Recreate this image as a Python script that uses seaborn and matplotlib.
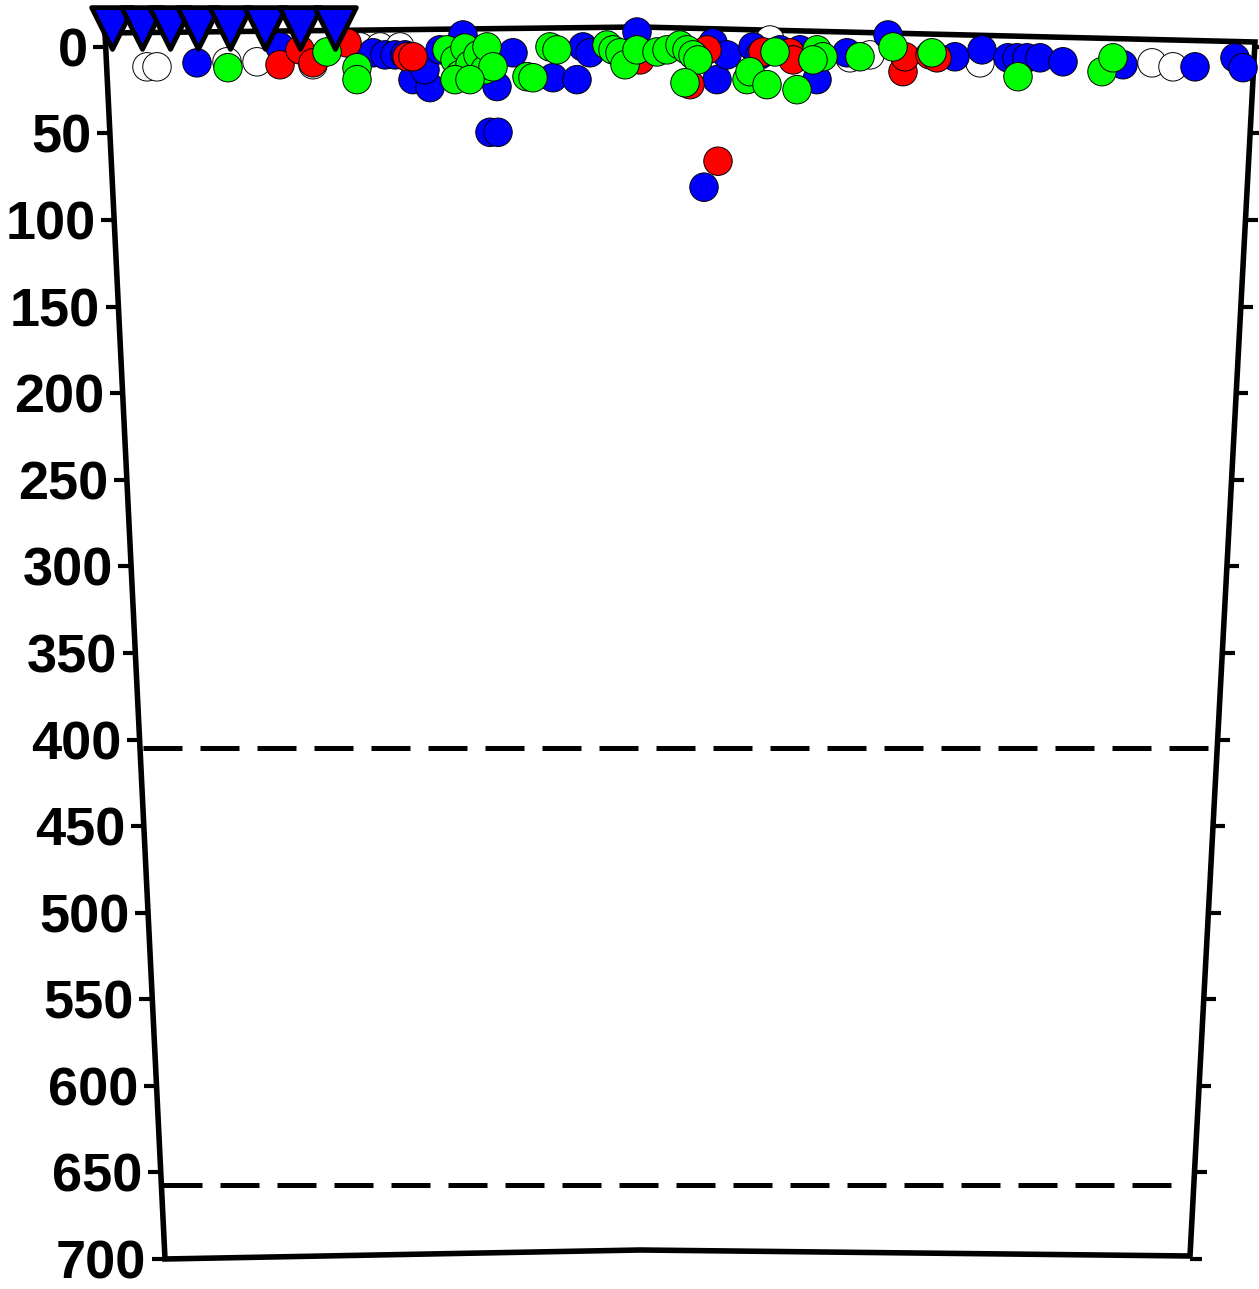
import numpy as np
import pandas as pd
import matplotlib
matplotlib.use("Agg")
import matplotlib.pyplot as plt
import seaborn as sns
from matplotlib.transforms import ScaledTranslation

# ---------------- data ----------------
yticks = [0, 50, 100, 150, 200, 250, 300, 350, 400, 450, 500, 550, 600, 650, 700]
ytick_labels = [str(v) for v in yticks]

white_x = [42, 52, 122, 152, 208, 255, 275, 295, 665, 745, 765, 875, 1047, 1068]
white_y = [11.5, 11.5, 8.6, 8.6, 10.3, 0, 0, 0, -4, 6.3, 4.6, 9.2, 9.2, 11.5]

blue_x = [92, 175, 268, 280, 290, 300, 308, 325, 320, 335, 358, 392, 385, 393, 408,
          448, 472, 478, 485, 532, 608, 612, 622, 599, 648, 655, 675, 695, 712, 742,
          783, 850, 877, 903, 912, 922, 935, 958, 1018, 1090, 1130, 1138]
blue_y = [9.2, 0, 3.4, 4.6, 4.6, 4.6, 18.9, 23.5, 13.2, 1.7, -6.9, 22.9, 49.3, 49.3, 3.4,
          17.8, 18.9, 0, 3.4, -8.6, -2.3, 18.9, 4.6, 81, 0, 4.6, 1.7, 1.7, 18.9, 3.4,
          -6.9, 5.7, 1.7, 6.3, 6.3, 6.3, 6.3, 8.6, 10.3, 11.5, 6.3, 12]

red_x = [175, 195, 208, 242, 302, 308, 535, 585, 602, 613, 658, 685, 688, 798, 800, 825, 832]
red_y = [10.3, 1.7, 9.2, -2.3, 5.7, 5.7, 7.5, 21.8, 1.7, 66, 2.9, 3.4, 7.5, 14.3, 5.7, 4.6, 6.3]

green_x = [123, 222, 252, 252, 342, 350, 355, 360, 365, 373, 380, 382, 388, 350, 365,
           422, 428, 445, 452, 502, 508, 515, 520, 532, 552, 562, 575, 582, 588, 593,
           580, 642, 645, 662, 692, 670, 712, 718, 708, 755, 788, 827, 913, 997, 1008]
green_y = [12, 2.9, 12, 18.9, 1.7, 7.5, 16, 0.6, 10.3, 4.6, 13.2, 0, 11.5, 18.9, 18.9,
           17.2, 17.8, 0, 1.7, -1.1, 1.7, 3.4, 10.3, 1.7, 2.9, 1.7, -1.1, 1.7, 4.6, 7.5,
           20.7, 18.9, 14.3, 21.8, 24.7, 2.9, 1.7, 5.7, 7.5, 5.7, 0, 3.4, 17.2, 14.3, 6.3]

tri_x = [7, 37, 65, 93, 125, 160, 195, 230]
tri_y = [-11, -11, -11, -11, -11, -11, -11, -11]

dash_levels = [405, 657]
dash_xmin = [38, 58]
dash_xmax = [1105, 1078]

groups = ["white", "blue", "red", "green"]
palette = {"white": "#ffffff", "blue": "#0000ff", "red": "#ff0000", "green": "#00ff00"}

df = pd.concat([
    pd.DataFrame({"x": white_x, "y": white_y, "g": "white"}),
    pd.DataFrame({"x": blue_x, "y": blue_y, "g": "blue"}),
    pd.DataFrame({"x": red_x, "y": red_y, "g": "red"}),
    pd.DataFrame({"x": green_x, "y": green_y, "g": "green"}),
], ignore_index=True)
tri = pd.DataFrame({"x": tri_x, "y": tri_y})

# ---------------- figure ----------------
sns.set_theme(style="white")
plt.rcParams["font.family"] = ["Liberation Sans", "DejaVu Sans"]

W, H = 1259, 1289
fig = plt.figure(figsize=(W / 100, H / 100), dpi=100)
L, R, T, B = 105, 1255, 27, 1259
ax = fig.add_axes([L / W, (H - B) / H, (R - L) / W, (B - T) / H])
ax.set_facecolor("none")

# trapezoid frame (perspective)
def fx(px):
    return (px - L) / (R - L)

def fy(py):
    return (B - py) / (B - T)

frame_px = [(105, 33), (640, 27), (1255, 42), (1190, 1256), (640, 1250), (165, 1259), (105, 33)]
ax.plot([fx(p[0]) for p in frame_px], [fy(p[1]) for p in frame_px],
        transform=ax.transAxes, color="black", lw=4, zorder=1,
        solid_joinstyle="miter", clip_on=False)
for s in ax.spines.values():
    s.set_visible(False)

# dashed reference lines
for lev, x0, x1 in zip(dash_levels, dash_xmin, dash_xmax):
    ax.hlines(lev, x0, x1, colors="black", lw=3.6, linestyles=[(0, (7.8, 3.6))], zorder=1)

sns.scatterplot(data=df, x="x", y="y", hue="g", hue_order=groups, palette=palette,
                s=420, edgecolor="black", linewidth=0.7, legend=False, ax=ax,
                clip_on=False, zorder=3)
sns.scatterplot(data=tri, x="x", y="y", marker="v", s=900, color="#0000ff",
                edgecolor="black", linewidth=3.5, legend=False, ax=ax,
                clip_on=False, zorder=4)

ax.set_xlim(0, R - L)
ax.set_ylim(700, -11.5)
ax.set_xticks([])
ax.set_xlabel("")
ax.set_ylabel("")
ax.set_yticks(yticks, labels=ytick_labels, fontsize=39, fontweight="bold")
ax.tick_params(axis="y", which="major", direction="out", length=8.6, width=3,
               color="black", pad=4, left=True, right=True, labelleft=True,
               labelright=False, labelcolor="black")

# perspective shift of tick marks/labels
tobjs = ax.yaxis.get_major_ticks(len(yticks))
for t, v in zip(tobjs, yticks):
    offl = ScaledTranslation(v * 59.0 / 700 / 100, 0, fig.dpi_scale_trans)
    offr = ScaledTranslation(-v * 65.0 / 700 / 100, 0, fig.dpi_scale_trans)
    t.tick1line.set_transform(t.tick1line.get_transform() + offl)
    t.label1.set_transform(t.label1.get_transform() + offl)
    t.tick2line.set_transform(t.tick2line.get_transform() + offr)

fig.savefig("out.png", dpi=100)
